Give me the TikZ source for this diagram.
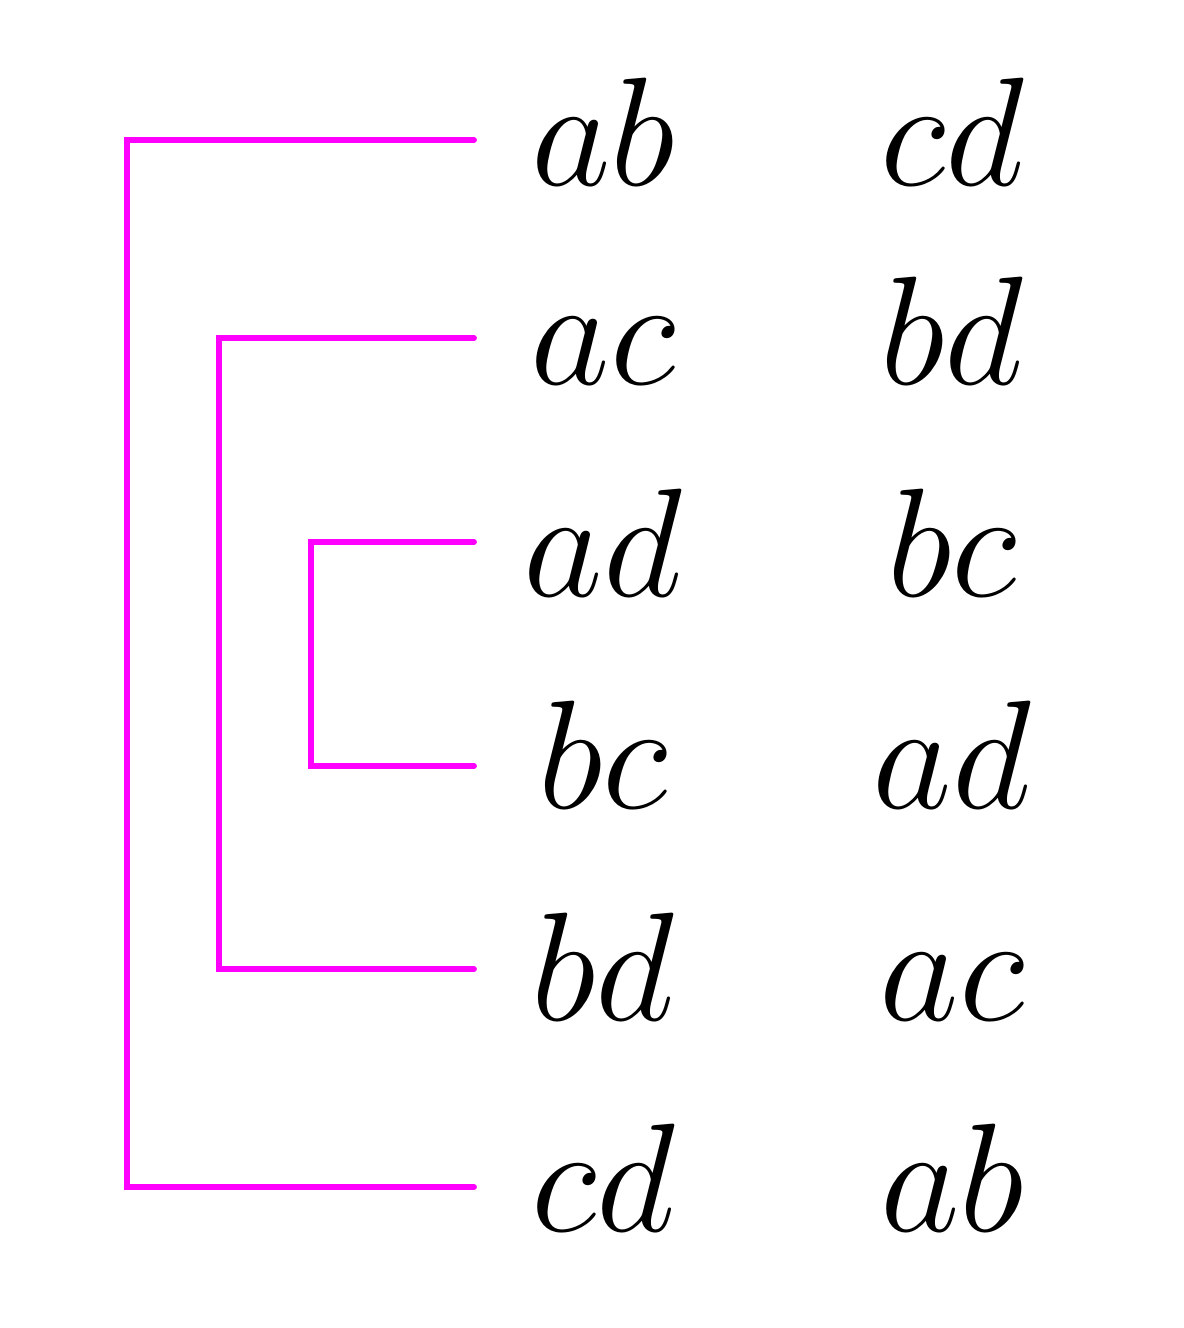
\documentclass[tikz,border=0pt]{standalone}
\usepackage{tikz}
\usepackage{xcolor}
\definecolor{bracketpink}{RGB}{255,0,255}

\begin{document}
\begin{tikzpicture}[line width=0.058cm,
  pair/.style={anchor=base,inner sep=0pt,font=\Huge,scale=1.77},
  bracket/.style={draw=bracketpink,line cap=round,line join=miter}]
  \useasboundingbox (0,0) rectangle (11.84,-13.28);

  \node[pair] (L1) at (6.03,-1.86)  {$ab$};
  \node[pair] (L2) at (6.03,-3.84)  {$ac$};
  \node[pair] (L3) at (6.03,-5.96)  {$ad$};
  \node[pair] (L4) at (6.03,-8.08)  {$bc$};
  \node[pair] (L5) at (6.03,-10.20) {$bd$};
  \node[pair] (L6) at (6.03,-12.31) {$cd$};

  \node[pair] (R1) at (9.52,-1.86)  {$cd$};
  \node[pair] (R2) at (9.52,-3.84)  {$bd$};
  \node[pair] (R3) at (9.52,-5.96)  {$bc$};
  \node[pair] (R4) at (9.52,-8.08)  {$ad$};
  \node[pair] (R5) at (9.52,-10.20) {$ac$};
  \node[pair] (R6) at (9.52,-12.31) {$ab$};

  \coordinate (e1) at (4.74,-1.40);
  \coordinate (e2) at (4.74,-3.38);
  \coordinate (e3) at (4.74,-5.42);
  \coordinate (e4) at (4.74,-7.66);
  \coordinate (e5) at (4.74,-9.69);
  \coordinate (e6) at (4.74,-11.87);

  \draw[bracket] (e1) -- ++(-3.47,0) |- (e6);
  \draw[bracket] (e2) -- ++(-2.55,0) |- (e5);
  \draw[bracket] (e3) -- ++(-1.63,0) |- (e4);
\end{tikzpicture}
\end{document}
